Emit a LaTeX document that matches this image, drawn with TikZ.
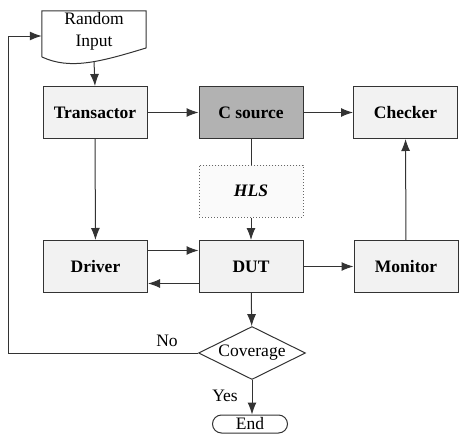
\documentclass[tikz,border=0pt]{standalone}
\usepackage{fontspec}
\setmainfont{Liberation Serif}
\usetikzlibrary{arrows.meta,shapes.geometric}
\begin{document}
\begin{tikzpicture}[x=1pt,y=-1pt,
  txt/.style={font=\fontsize{17.5}{22}\selectfont},
  box/.style={draw=black!80, line width=1pt, fill=gray!10, minimum width=104pt,
    minimum height=52pt, inner sep=0pt, font=\fontsize{17.5}{20}\selectfont\bfseries},
  conn/.style={draw=black!80, line width=1pt},
  arr/.style={conn, -{Latex[length=12pt,width=9pt]}}]
\useasboundingbox (0,0) rectangle (459,434);

% Random Input (document shape)
\node[minimum width=104pt, minimum height=50pt, inner sep=0pt] (rin) at (94,36) {};
\draw[conn, fill=white] (rin.north west) -- (rin.north east) -- (146,48)
  .. controls (100,62) and (70,70) .. (42,57) -- cycle;
\node[txt, align=center] (rintext) at (94,31) {Random\\Input};

\node[box] (trans) at (95,112.5) {Transactor};
\node[box, fill=gray!60] (csrc) at (251,112.5) {C source};
\node[box] (check) at (405.5,112.5) {Checker};
\node[box, draw=black!60, dotted, fill=gray!4, font=\fontsize{17.5}{20}\selectfont\bfseries\itshape] (hls) at (251,191) {HLS};
\node[box] (drv) at (95.5,266.5) {Driver};
\node[box] (dut) at (251,266.5) {DUT};
\node[box] (mon) at (406,266.5) {Monitor};
\node[diamond, aspect=2, draw=black!80, line width=1pt, minimum width=107pt,
  minimum height=53pt, inner sep=0pt, txt] (cov) at (252,353) {Coverage};
\node[draw=black!80, line width=1pt, rounded corners=9pt, minimum width=75pt,
  minimum height=18pt, inner sep=0pt, txt] (end) at (250,424) {End};

\node[txt] (no) at (167,341) {No};
\node[txt] (yes) at (225,396) {Yes};

\coordinate (fb) at (8,353);

\draw[arr] (rin.south) -- (trans.north);
\draw[arr] (trans) -- (csrc);
\draw[arr] (csrc) -- (check);
\draw[conn] (csrc.south) -- (hls.north);
\draw[arr] (hls) -- (dut);
\draw[arr] (trans) -- (drv);
\draw[arr] ([yshift=16pt]drv.east) -- ([yshift=16pt]dut.west);
\draw[arr] ([yshift=-17pt]dut.west) -- ([yshift=-17pt]drv.east);
\draw[arr] (dut) -- (mon);
\draw[arr] (mon) -- (check);
\draw[arr] (dut) -- (cov);
\draw[arr] (cov.south) -- (end.north -| cov.south);
\draw[arr] (cov.west) -- (fb) |- (rin.west);
\end{tikzpicture}
\end{document}
